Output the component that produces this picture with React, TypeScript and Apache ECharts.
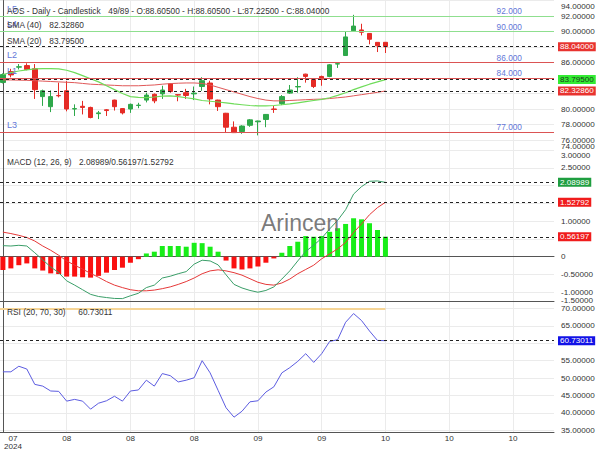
import React, { useEffect, useRef } from 'react';
import * as echarts from 'echarts';

const FONT = "'Liberation Sans', Arial, sans-serif";

// ---------- data ----------
const xTickLabels = ['07\n2024', '08', '08', '08', '09', '09', '10', '10', '10'];
const TICK_STEP = 8;
const totalBars = 89;

const opens = [83.43, 84.83, 85.40, 85.60, 85.20, 81.60, 80.30, 81.75, 82.35, 80.00, 80.35, 80.20, 79.40, 79.90, 81.15, 80.05, 80.00, 80.45, 81.15, 81.90, 81.95, 83.25, 81.85, 82.10, 81.95, 82.90, 83.35, 81.15, 79.45, 77.65, 77.10, 77.90, 78.35, 78.65, 80.00, 80.70, 82.05, 82.85, 84.50, 83.80, 84.20, 84.20, 85.80, 86.90, 90.10, 90.20, 89.75, 88.60, 88.605];
const closes = [84.44, 84.40, 85.45, 85.10, 82.50, 82.35, 81.60, 81.70, 80.00, 80.05, 80.20, 78.90, 79.50, 79.80, 80.30, 79.50, 80.60, 80.50, 81.80, 81.05, 82.45, 82.25, 81.80, 81.75, 82.05, 83.65, 81.30, 80.30, 77.65, 76.95, 77.80, 78.60, 78.45, 79.30, 79.95, 81.60, 82.45, 82.90, 84.20, 82.90, 83.85, 85.70, 85.85, 89.30, 90.70, 89.90, 89.00, 88.15, 88.04];
const lows = [83.30, 84.09, 85.10, 85.00, 81.30, 80.40, 79.60, 81.50, 79.70, 79.10, 79.30, 78.80, 78.70, 79.10, 79.80, 79.30, 79.50, 80.10, 80.85, 80.75, 81.30, 82.10, 81.00, 81.30, 81.15, 82.35, 80.60, 79.75, 76.90, 76.90, 76.80, 77.70, 76.60, 77.65, 79.50, 80.50, 81.95, 82.10, 83.40, 82.70, 83.00, 84.10, 85.30, 86.90, 90.00, 89.50, 88.35, 87.35, 87.225];
const highs = [84.60, 85.18, 85.80, 85.90, 85.80, 82.50, 82.40, 83.40, 83.60, 80.60, 81.05, 80.30, 79.75, 80.00, 81.20, 80.10, 80.70, 80.80, 82.10, 82.00, 83.00, 83.30, 81.90, 82.60, 82.90, 84.10, 83.65, 81.20, 79.50, 78.40, 77.90, 78.70, 78.50, 79.35, 80.40, 81.80, 83.10, 84.10, 84.55, 83.85, 84.30, 85.80, 86.05, 90.05, 92.15, 91.00, 89.80, 88.60, 88.605];

const sma20 = [84.45, 84.70, 84.90, 85.05, 85.18, 85.20, 85.20, 85.18, 85.00, 84.70, 84.30, 83.90, 83.50, 83.00, 82.50, 82.00, 81.60, 81.50, 81.48, 81.55, 81.65, 81.70, 81.60, 81.45, 81.30, 81.10, 81.00, 80.90, 80.80, 80.65, 80.55, 80.45, 80.40, 80.40, 80.45, 80.55, 80.65, 80.80, 80.95, 81.10, 81.25, 81.45, 81.75, 82.10, 82.50, 82.85, 83.20, 83.50, 83.795];
const sma40 = [83.75, 83.75, 83.72, 83.70, 83.65, 83.60, 83.55, 83.50, 83.45, 83.40, 83.30, 83.20, 83.15, 83.10, 83.05, 83.00, 83.00, 83.00, 83.05, 83.10, 83.20, 83.28, 83.33, 83.36, 83.36, 83.30, 83.10, 82.80, 82.50, 82.20, 81.90, 81.60, 81.35, 81.15, 81.05, 81.05, 81.10, 81.15, 81.20, 81.25, 81.28, 81.35, 81.45, 81.55, 81.70, 81.85, 82.00, 82.15, 82.3286];

const macdLine = [0.31, 0.30, 0.32, 0.30, 0.11, -0.09, -0.29, -0.45, -0.68, -0.80, -0.93, -1.06, -1.12, -1.15, -1.175, -1.18, -1.10, -1.03, -0.87, -0.80, -0.60, -0.55, -0.48, -0.42, -0.21, -0.10, -0.12, -0.23, -0.51, -0.78, -0.88, -0.95, -1.00, -0.95, -0.85, -0.63, -0.40, -0.12, 0.15, 0.32, 0.52, 0.78, 1.02, 1.32, 1.76, 1.97, 2.12, 2.13, 2.08989];
const signalLine = [0.69, 0.65, 0.60, 0.54, 0.44, 0.30, 0.18, 0.04, -0.12, -0.24, -0.35, -0.47, -0.58, -0.70, -0.80, -0.87, -0.93, -0.96, -0.96, -0.94, -0.90, -0.85, -0.78, -0.70, -0.60, -0.48, -0.40, -0.37, -0.40, -0.45, -0.52, -0.62, -0.72, -0.78, -0.80, -0.74, -0.63, -0.48, -0.36, -0.24, -0.06, 0.08, 0.22, 0.40, 0.68, 0.92, 1.18, 1.38, 1.52792];
const macdHist = [-0.375, -0.33, -0.24, -0.19, -0.33, -0.39, -0.47, -0.49, -0.56, -0.56, -0.58, -0.59, -0.54, -0.45, -0.375, -0.31, -0.17, -0.07, 0.09, 0.14, 0.30, 0.30, 0.30, 0.28, 0.39, 0.38, 0.28, 0.14, -0.11, -0.33, -0.36, -0.33, -0.28, -0.17, -0.05, 0.11, 0.30, 0.42, 0.58, 0.56, 0.58, 0.70, 0.80, 0.92, 1.08, 1.05, 0.94, 0.75, 0.56197];

const rsi = [51.8, 51.8, 53.4, 52.6, 48.2, 47.7, 46.3, 46.2, 43.4, 43.9, 43.4, 41.1, 42.8, 43.5, 44.8, 43.4, 46.3, 46.6, 49.4, 47.7, 51.3, 50.7, 48.9, 49.4, 50.1, 55.0, 51.5, 46.5, 41.5, 38.8, 40.5, 43.2, 43.5, 46.0, 47.5, 51.5, 53.0, 54.8, 57.0, 54.5, 57.0, 60.5, 61.0, 66.0, 68.5, 66.5, 63.5, 60.8, 60.73011];
const rsiUpper = 70;

const levelValues = [92, 90, 86, 84, 77];
const levelNames = ['L5', 'L4', 'L2', 'L1', 'L3'];
const levelIsUpper = [true, true, false, false, false];

const priceLabelTicks = [76, 78, 80, 86, 90, 92, 94];
const priceEdgeLabelTicks = [74];
const priceGridTicks = [76, 78, 80, 82, 84, 86, 88, 90, 92, 94];
const macdLabelTicks = [-1, -0.5, 0, 1, 2.5, 3];
const macdEdgeLabelTicks = [-1.5];
const macdGridTicks = [-1, -0.5, 0, 0.5, 1, 1.5, 2, 2.5, 3];
const rsiLabelTicks = [35, 40, 45, 50, 55, 65, 70];
const rsiGridTicks = [35, 40, 45, 50, 55, 60, 65, 70];

// ---------- styling ----------
const UP = '#2ea84a';
const DOWN = '#e52b25';
const BLUE_TXT = '#6477d8';
const AXIS = '#555';
const SPLIT = '#ebebeb';
const TXT = '#333';
const AX_FS = 8.1;
const LG_FS = 8.3;
const X_MIN = -0.364;
const X_MAX = 69.15;
const LAST = opens.length - 1;
const PRICE_MIN = 74;
const PRICE_MAX = 94;
const MACD_MIN = -1.5;
const MACD_MAX = 3;

const f5 = (v: number) => v.toFixed(5);

function buildOption(): any {
  const xTickIdx = xTickLabels.map((_, i) => i * TICK_STEP);

  const xBase = (gridIndex: number, extra: any = {}) => ({
    type: 'value',
    gridIndex,
    min: X_MIN,
    max: X_MAX,
    axisTick: { show: false, customValues: xTickIdx },
    axisLabel: { show: false, customValues: xTickIdx },
    splitLine: { show: true, lineStyle: { color: SPLIT, width: 1 } },
    axisLine: { show: false },
    ...extra,
  });

  const labelBase = {
    margin: 7,
    fontSize: AX_FS,
    fontFamily: FONT,
    color: TXT,
    hideOverlap: false,
  };
  const richEdge = {
    t: { padding: [11, 0, 0, 0], fontSize: AX_FS, fontFamily: FONT, color: TXT },
    b: { padding: [0, 0, 19, 0], fontSize: AX_FS, fontFamily: FONT, color: TXT },
    bb: { padding: [0, 0, 20, 0], fontSize: AX_FS, fontFamily: FONT, color: TXT },
  };

  const yBase = (gridIndex: number, min: number, max: number, gridTicks: number[], labelTicks: number[], formatter: any) => ({
    type: 'value',
    gridIndex,
    position: 'right',
    min,
    max,
    axisLine: { show: true, lineStyle: { color: AXIS, width: 1 } },
    axisTick: { show: false, customValues: gridTicks },
    axisLabel: { ...labelBase, customValues: labelTicks, formatter, rich: richEdge },
    splitLine: { show: true, lineStyle: { color: SPLIT, width: 1 } },
  });

  // a label-only axis drawn at the same right edge, for the clamped edge labels
  const yEdge = (gridIndex: number, min: number, max: number, labelTicks: number[], richKey: string) => ({
    type: 'value',
    gridIndex,
    position: 'left',
    offset: -554,
    min,
    max,
    axisLine: { show: false },
    axisTick: { show: false },
    splitLine: { show: false },
    axisLabel: {
      ...labelBase,
      inside: true,
      customValues: labelTicks,
      formatter: (v: number) => `{${richKey}|${f5(v)}}`,
      rich: richEdge,
    },
  });

  const badge = (value: number, text: string, bg: string, fg: string) => ({
    yAxis: value,
    lineStyle: { color: '#222', type: [3, 3], width: 1 },
    label: {
      show: true,
      position: 'end',
      distance: 4,
      formatter: () => text,
      backgroundColor: bg,
      color: fg,
      padding: [1, 2, 0, 2],
      fontSize: AX_FS,
      fontFamily: FONT,
    },
  });

  const levelMarks = levelValues.flatMap((v, i) => {
    const ls = { color: levelIsUpper[i] ? '#8fdf8f' : '#db5353', width: 1, type: 'solid' };
    return [
      {
        yAxis: v,
        lineStyle: ls,
        label: {
          show: true, position: 'insideEndTop', formatter: () => v.toFixed(3), color: BLUE_TXT,
          fontSize: 8.3, fontFamily: FONT, distance: 1, padding: [0, 31, 0, 0],
        },
      },
      {
        yAxis: v,
        lineStyle: ls,
        label: {
          show: true, position: 'insideStartTop', formatter: () => levelNames[i], color: BLUE_TXT,
          fontSize: 9, fontFamily: FONT, distance: 3, padding: [0, 0, 0, 4],
        },
      },
    ];
  });

  const mlBase = { symbol: ['none', 'none'], silent: true, animation: false };

  const txt = (x: number, y: number, text: string, extra: any = {}) => ({
    type: 'text',
    x,
    y,
    z: 100,
    silent: true,
    style: { text, fontSize: LG_FS, fontFamily: FONT, fill: TXT, verticalAlign: 'middle', align: 'left', ...extra },
  });

  const solidAxis = { show: true, lineStyle: { color: AXIS, width: 1 } };

  return {
    animation: false,
    backgroundColor: '#ffffff',
    grid: [
      { left: 0, right: 46, top: 0.5, height: 155, containLabel: false, outerBoundsMode: 'none' },
      { left: 0, right: 46, top: 150, height: 160, containLabel: false, outerBoundsMode: 'none' },
      { left: 0, right: 46, top: 301, height: 131, containLabel: false, outerBoundsMode: 'none' },
    ],
    xAxis: [
      xBase(0),
      xBase(1),
      xBase(1, { position: 'top', splitLine: { show: false }, axisLine: solidAxis }),
      xBase(2, {
        axisLine: solidAxis,
        axisLabel: {
          show: true,
          customValues: xTickIdx,
          margin: 2,
          fontSize: AX_FS,
          fontFamily: FONT,
          color: TXT,
          lineHeight: 8,
          hideOverlap: false,
          formatter: (v: number) => {
            const i = Math.round(v / TICK_STEP);
            const s = xTickLabels[i] ?? '';
            if (i === 0) return s.split('\n').map((t) => `{f|${t}}`).join('\n');
            return s;
          },
          rich: { f: { padding: [0, 0, 0, 20], fontSize: AX_FS, fontFamily: FONT, color: TXT, lineHeight: 8 } },
        },
      }),
      xBase(2, { position: 'top', splitLine: { show: false }, axisLine: solidAxis }),
    ],
    yAxis: [
      yBase(0, PRICE_MIN, PRICE_MAX, priceGridTicks, priceLabelTicks, (v: number) =>
        v === PRICE_MAX ? `{t|${f5(v)}}` : f5(v)),
      yBase(1, MACD_MIN, MACD_MAX, macdGridTicks, macdLabelTicks, (v: number) =>
        v === MACD_MAX ? `{t|${f5(v)}}` : v === 0 ? '0' : f5(v)),
      yBase(2, 34.55, 72.1, rsiGridTicks, rsiLabelTicks, (v: number) => f5(v)),
      yEdge(1, MACD_MIN, MACD_MAX, macdEdgeLabelTicks, 'bb'),
      yEdge(0, PRICE_MIN, PRICE_MAX, priceEdgeLabelTicks, 'b'),
    ],
    series: [
      {
        type: 'candlestick',
        xAxisIndex: 0,
        yAxisIndex: 0,
        barWidth: 5,
        data: opens.map((o, i) => [i, o, closes[i], lows[i], highs[i]]),
        itemStyle: { color: UP, color0: DOWN, borderColor: UP, borderColor0: DOWN, borderWidth: 1 },
        markLine: { ...mlBase, data: [...levelMarks, badge(closes[LAST], f5(closes[LAST]), '#e8332f', '#ffffff')] },
      },
      {
        type: 'line',
        xAxisIndex: 0,
        yAxisIndex: 0,
        data: sma40.map((v, i) => [i, v]),
        showSymbol: false,
        lineStyle: { color: '#e05858', width: 1 },
        markLine: { ...mlBase, data: [badge(sma40[LAST], f5(sma40[LAST]), '#e8332f', '#ffffff')] },
      },
      {
        type: 'line',
        xAxisIndex: 0,
        yAxisIndex: 0,
        data: sma20.map((v, i) => [i, v]),
        showSymbol: false,
        lineStyle: { color: '#6fdc5a', width: 1.2 },
        markLine: { ...mlBase, data: [badge(sma20[LAST], f5(sma20[LAST]), '#33ec33', '#1c3a1c')] },
      },
      {
        type: 'bar',
        xAxisIndex: 1,
        yAxisIndex: 1,
        barWidth: 5,
        data: macdHist.map((v, i) => ({ value: [i, v], itemStyle: { color: v >= 0 ? '#18ee18' : '#fa1010' } })),
        markLine: { ...mlBase, data: [badge(macdHist[LAST], f5(macdHist[LAST]), '#f01c1c', '#ffffff')] },
      },
      {
        type: 'line',
        xAxisIndex: 1,
        yAxisIndex: 1,
        data: signalLine.map((v, i) => [i, v]),
        showSymbol: false,
        lineStyle: { color: '#e53838', width: 1 },
        markLine: { ...mlBase, data: [badge(signalLine[LAST], f5(signalLine[LAST]), '#f01c1c', '#ffffff')] },
      },
      {
        type: 'line',
        xAxisIndex: 1,
        yAxisIndex: 1,
        data: macdLine.map((v, i) => [i, v]),
        showSymbol: false,
        lineStyle: { color: '#3a9e68', width: 1 },
        markLine: { ...mlBase, data: [badge(macdLine[LAST], f5(macdLine[LAST]), '#1f9e40', '#ffffff')] },
      },
      {
        type: 'line',
        xAxisIndex: 3,
        yAxisIndex: 2,
        data: rsi.map((v, i) => [i, v]),
        showSymbol: false,
        lineStyle: { color: '#5c5ce0', width: 1 },
        markLine: {
          ...mlBase,
          data: [
            badge(rsi[LAST], f5(rsi[LAST]), '#1212e6', '#ffffff'),
            [
              { coord: [X_MIN, rsiUpper], lineStyle: { color: '#f6d596', width: 2, type: 'solid' }, label: { show: false } },
              { coord: [LAST, rsiUpper] },
            ],
          ],
        },
      },
    ],
    graphic: [
      txt(7, 10.7, 'AOS - Daily - Candlestick'),
      txt(108.3, 10.7, `${opens.length}/${totalBars} - O:${f5(opens[LAST])} - H:${f5(highs[LAST])} - L:${f5(lows[LAST])} - C:${f5(closes[LAST])}`),
      txt(7, 25, 'SMA (40)'),
      txt(49.3, 25, f5(sma40[LAST])),
      txt(7, 40.7, 'SMA (20)'),
      txt(49.3, 40.7, f5(sma20[LAST])),
      txt(7, 161.7, 'MACD (12, 26, 9)'),
      txt(79, 161.7, `${f5(macdLine[LAST])}/${f5(macdHist[LAST])}/${f5(signalLine[LAST])}`),
      txt(7, 311.7, 'RSI (20, 70, 30)'),
      txt(78.3, 311.7, f5(rsi[LAST])),
      {
        type: 'text',
        x: 300,
        y: 223,
        z: 90,
        silent: true,
        style: { text: 'Arincen', fontSize: 23, fontFamily: FONT, fill: 'rgba(100,100,100,0.85)', align: 'center', verticalAlign: 'middle' },
      },
    ],
  };
}

export default function App() {
  const ref = useRef<HTMLDivElement>(null);
  useEffect(() => {
    if (!ref.current) return;
    const chart = echarts.init(ref.current, undefined, { renderer: 'svg' });
    chart.setOption(buildOption());
    return () => chart.dispose();
  }, []);
  return (
    <div
      ref={ref}
      style={{ position: 'fixed', left: 0, top: 0, width: 600, height: 450, background: '#ffffff' }}
    />
  );
}
